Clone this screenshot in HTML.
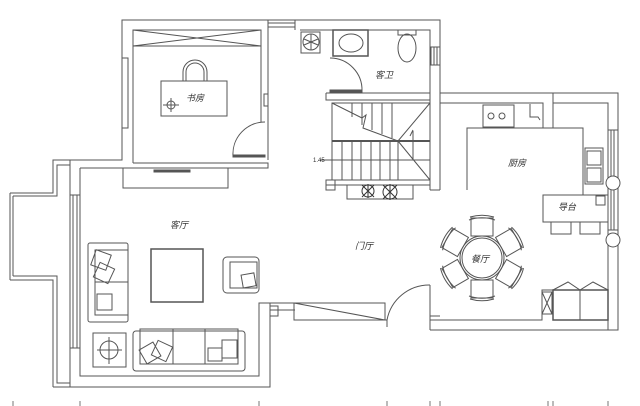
<!DOCTYPE html>
<html><head><meta charset="utf-8"><style>
html,body{margin:0;padding:0;background:#fff;width:640px;height:406px;overflow:hidden}
svg{display:block}
text{font-family:"Liberation Sans","Noto Sans CJK SC",sans-serif;font-size:9px;fill:#333;font-style:italic}
</style></head><body>
<svg width="640" height="406" viewBox="0 0 640 406" xmlns="http://www.w3.org/2000/svg">
<g fill="none" stroke="#555" stroke-width="1">
<!-- study -->
<polyline points="268,20 122,20 122,160 70,160 70,387"/>
<polyline points="261,30 133,30 133,163"/>
<rect x="133" y="30" width="128" height="16"/>
<line x1="133" y1="30" x2="261" y2="46"/><line x1="133" y1="46" x2="261" y2="30"/>
<rect x="122" y="58" width="6" height="70"/>
<line x1="261" y1="30" x2="261" y2="122"/><line x1="268" y1="20" x2="268" y2="160"/>
<rect x="264" y="94" width="4" height="12"/>
<path d="M233,156 A32,32 0 0 1 265,122"/>
<rect x="233" y="155" width="32" height="2" fill="#555"/>
<polyline points="133,163 268,163 268,168 123,168"/>
<rect x="123" y="168" width="105" height="20"/>
<rect x="154" y="170" width="36" height="2" fill="#555"/>
<rect x="161" y="81" width="66" height="35"/>
<path d="M183,81 V72 A12,12 0 0 1 207,72 V81"/><path d="M186,81 V72 A9,9 0 0 1 204,72 V81"/>
<circle cx="171" cy="105" r="4"/><line x1="163" y1="105" x2="179" y2="105"/><line x1="171" y1="98" x2="171" y2="112"/>
<!-- top / bathroom -->
<polyline points="268,20 440,20 440,93 618,93 618,330 430,330"/>
<line x1="268" y1="23" x2="295" y2="23"/><line x1="268" y1="27" x2="295" y2="27"/>
<line x1="295" y1="20" x2="295" y2="30"/>
<polyline points="300,30 430,30 430,97"/>
<rect x="431" y="47" width="9" height="18"/><line x1="434" y1="47" x2="434" y2="65"/><line x1="437" y1="47" x2="437" y2="65"/>
<rect x="301" y="32" width="19" height="21"/><circle cx="311" cy="42" r="8"/>
<line x1="304" y1="39" x2="318" y2="45"/><line x1="304" y1="45" x2="318" y2="39"/><line x1="311" y1="34" x2="311" y2="50"/>
<rect x="333" y="30" width="35" height="26" stroke-width="1.5"/><ellipse cx="351" cy="43" rx="12" ry="9"/>
<ellipse cx="407" cy="48" rx="9" ry="14"/><rect x="398" y="30" width="18" height="5"/>
<path d="M330,58 A32,32 0 0 1 362,91"/>
<rect x="330" y="90" width="32" height="2" fill="#555"/>
<polyline points="326,93 430,93"/><polyline points="326,93 326,100 430,100"/>
<!-- stairs -->
<rect x="332" y="103" width="98" height="77"/>
<line x1="332" y1="141" x2="430" y2="141" stroke-width="2"/>
<line x1="352" y1="103" x2="352" y2="117"/><line x1="362" y1="103" x2="362" y2="125"/><line x1="372" y1="103" x2="372" y2="130"/><line x1="382" y1="103" x2="382" y2="134"/><line x1="392" y1="103" x2="392" y2="138"/>
<line x1="342" y1="141" x2="342" y2="180"/><line x1="352" y1="141" x2="352" y2="180"/><line x1="361" y1="141" x2="361" y2="180"/><line x1="371" y1="141" x2="371" y2="180"/><line x1="380" y1="141" x2="380" y2="180"/><line x1="390" y1="141" x2="390" y2="180"/><line x1="398" y1="141" x2="398" y2="180"/>
<polyline points="332,103 362,118 366,115 363,128 398,141 430,103"/>
<line x1="398" y1="141" x2="430" y2="180"/>
<line x1="413" y1="131" x2="413" y2="160"/><line x1="410" y1="136" x2="413" y2="130"/>
<line x1="320" y1="160" x2="430" y2="160"/>
<rect x="326" y="180" width="104" height="5"/><rect x="326" y="180" width="9" height="10"/>
<rect x="347" y="185" width="66" height="14"/>
<g stroke="#333"><circle cx="368" cy="191" r="6"/><circle cx="390" cy="192" r="7"/>
<path d="M362,185 L374,197 M362,197 L374,185 M383,185 L397,199 M383,199 L397,185 M368,184 V198 M390,184 V200"/></g>
<line x1="430" y1="93" x2="430" y2="190"/><line x1="440" y1="93" x2="440" y2="190"/>
<line x1="430" y1="190" x2="440" y2="190"/>
<!-- kitchen -->
<polyline points="440,103 543,103 543,128"/><polyline points="553,93 553,128"/>
<polyline points="553,103 608,103 608,330"/>
<polyline points="467,190 467,128 583,128 583,195"/>
<rect x="483" y="105" width="31" height="22"/>
<circle cx="491" cy="116" r="3"/><circle cx="502" cy="116" r="3"/>
<path d="M530,104 V117 H538 L540,120"/>
<rect x="585" y="148" width="18" height="36"/><rect x="587" y="151" width="14" height="14"/><rect x="587" y="168" width="14" height="14"/>
<rect x="608" y="130" width="10" height="100"/><line x1="611" y1="130" x2="611" y2="230"/><line x1="614" y1="130" x2="614" y2="230"/>
<circle cx="613" cy="183" r="7" fill="#fff"/><circle cx="613" cy="240" r="7" fill="#fff"/>
<rect x="543" y="195" width="65" height="27"/><rect x="596" y="196" width="9" height="9"/>
<rect x="551" y="222" width="20" height="12"/><rect x="580" y="222" width="20" height="12"/>
<!-- dining -->
<g transform="translate(482,258)">
<circle r="22"/><circle r="20"/>
<g id="ch"><rect x="-11" y="-40" width="22" height="18"/><path d="M-13,-38 A40,40 0 0 1 13,-38"/><path d="M-12,-41 A42,42 0 0 1 12,-41"/></g>
<use href="#ch" transform="rotate(60)"/><use href="#ch" transform="rotate(120)"/><use href="#ch" transform="rotate(180)"/><use href="#ch" transform="rotate(240)"/><use href="#ch" transform="rotate(300)"/>
</g>
<!-- bottom right -->
<polyline points="430,320 542,320 542,290 608,290"/>
<rect x="553" y="290" width="55" height="30" stroke-width="1.5"/><line x1="580" y1="290" x2="580" y2="320"/>
<path d="M553,290 L568,282 L580,290 L593,282 L608,290"/>
<rect x="542" y="292" width="10" height="22"/><line x1="542" y1="292" x2="552" y2="314"/><line x1="552" y1="292" x2="542" y2="314"/>
<line x1="430" y1="285" x2="430" y2="330"/><line x1="430" y1="316" x2="440" y2="316"/>
<path d="M387,320 A43,43 0 0 1 430,285"/>
<line x1="387" y1="320" x2="387" y2="327"/>
<!-- living room walls -->
<line x1="80" y1="168" x2="123" y2="168"/>
<polyline points="80,168 80,376 259,376 259,303 318,303"/>
<polyline points="53,387 270,387 270,310"/>
<line x1="270" y1="303" x2="270" y2="310"/>
<rect x="70" y="195" width="10" height="153"/><line x1="73" y1="195" x2="73" y2="348"/><line x1="77" y1="195" x2="77" y2="348"/>
<line x1="270" y1="310" x2="295" y2="310"/>
<rect x="270" y="306" width="8" height="10"/>
<rect x="294" y="303" width="91" height="17"/><line x1="294" y1="303" x2="385" y2="320"/>
<line x1="385" y1="320" x2="387" y2="320"/>
<!-- balcony -->
<polyline points="10,193 53,193 53,160 70,160"/><polyline points="13,196 57,196 57,165 70,165"/>
<line x1="10" y1="193" x2="10" y2="280"/><line x1="13" y1="196" x2="13" y2="276"/>
<polyline points="10,280 53,280 53,387"/><polyline points="13,276 57,276 57,383 70,383"/>
<!-- furniture -->
<rect x="88" y="243" width="40" height="79" rx="2"/><rect x="95" y="250" width="33" height="65"/><line x1="95" y1="282" x2="128" y2="282"/>
<rect x="93" y="252" width="16" height="16" transform="rotate(20 101 260)"/><rect x="96" y="265" width="16" height="16" transform="rotate(25 104 273)"/><rect x="97" y="294" width="15" height="16"/>
<rect x="151" y="249" width="52" height="53" stroke-width="1.5"/>
<rect x="223" y="257" width="36" height="36" rx="4"/><rect x="230" y="262" width="27" height="26"/><rect x="242" y="274" width="13" height="13" transform="rotate(-10 248 280)"/>
<rect x="93" y="333" width="33" height="34"/><circle cx="109" cy="350" r="9"/><line x1="97" y1="350" x2="122" y2="350"/><line x1="109" y1="337" x2="109" y2="364"/>
<rect x="133" y="331" width="112" height="40" rx="3"/><rect x="140" y="329" width="98" height="35"/>
<line x1="173" y1="329" x2="173" y2="364"/><line x1="205" y1="329" x2="205" y2="364"/>
<rect x="142" y="345" width="16" height="16" transform="rotate(-30 150 353)"/><rect x="154" y="343" width="16" height="16" transform="rotate(25 162 351)"/>
<rect x="208" y="348" width="14" height="13"/><rect x="222" y="340" width="15" height="18"/>
</g>
<!-- bottom ticks -->
<g stroke="#777"><line x1="13" y1="401" x2="13" y2="406"/><line x1="80" y1="401" x2="80" y2="406"/><line x1="259" y1="401" x2="259" y2="406"/><line x1="387" y1="401" x2="387" y2="406"/><line x1="430" y1="401" x2="430" y2="406"/><line x1="440" y1="401" x2="440" y2="406"/><line x1="548" y1="401" x2="548" y2="406"/><line x1="553" y1="401" x2="553" y2="406"/><line x1="608" y1="401" x2="608" y2="406"/></g>
<text x="186" y="101">书房</text>
<text x="375" y="78">客卫</text>
<text x="508" y="166">厨房</text>
<text x="558" y="210">导台</text>
<text x="170" y="228">客厅</text>
<text x="355" y="249">门厅</text>
<text x="471" y="262">餐厅</text>
<text x="313" y="162" style="font-size:6px;font-style:normal">1.45</text>
</svg>
</body></html>
